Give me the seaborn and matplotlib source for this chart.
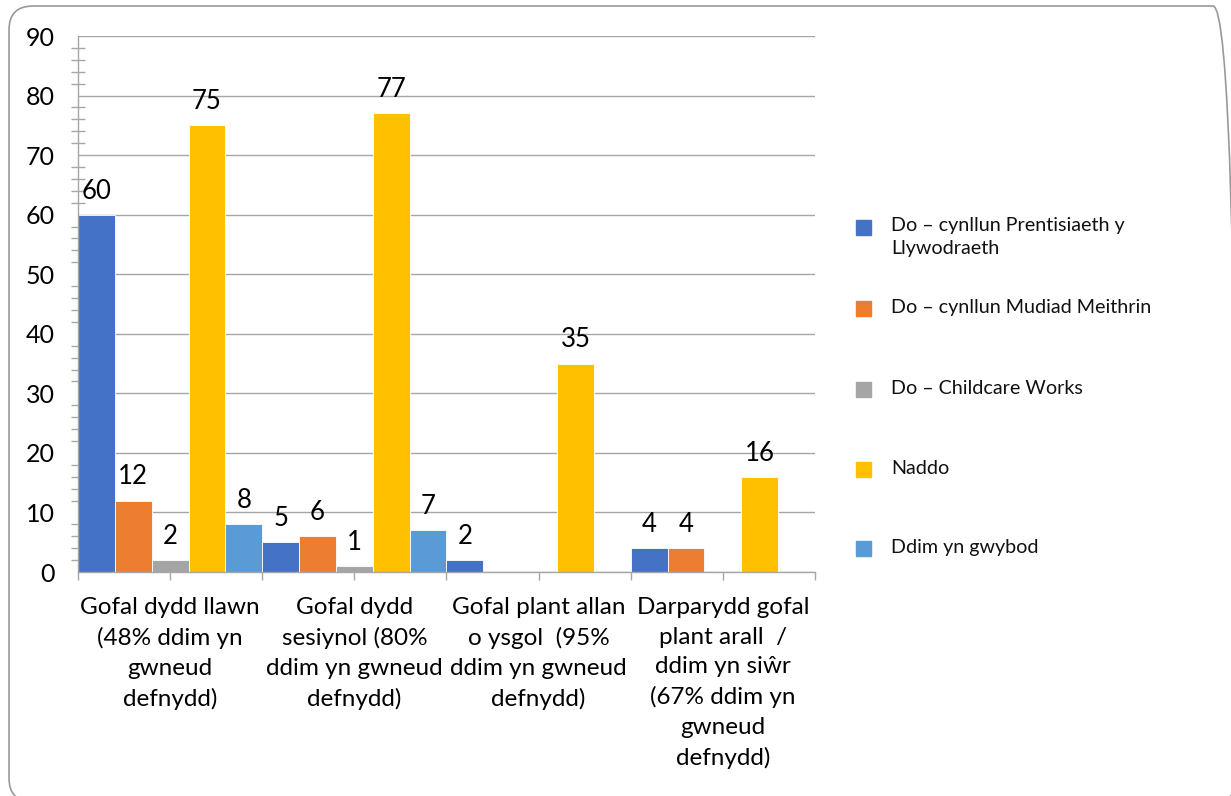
import numpy as np
import pandas as pd
import matplotlib
matplotlib.use("Agg")
import matplotlib.pyplot as plt
import seaborn as sns
from matplotlib.patches import FancyBboxPatch, Rectangle
from matplotlib.ticker import MultipleLocator, FixedLocator

# ---- data ----
categories = [
    "Gofal dydd llawn\n(48% ddim yn\ngwneud\ndefnydd)",
    "Gofal dydd\nsesiynol (80%\nddim yn gwneud\ndefnydd)",
    "Gofal plant allan\no ysgol  (95%\nddim yn gwneud\ndefnydd)",
    "Darparydd gofal\nplant arall  /\nddim yn siŵr\n(67% ddim yn\ngwneud\ndefnydd)",
]
series = [
    "Do – cynllun Prentisiaeth y\nLlywodraeth",
    "Do – cynllun Mudiad Meithrin",
    "Do – Childcare Works",
    "Naddo",
    "Ddim yn gwybod",
]
prentisiaeth = [60, 5, 2, 4]
mudiad_meithrin = [12, 6, 0, 4]
childcare_works = [2, 1, 0, 0]
naddo = [75, 77, 35, 16]
ddim_yn_gwybod = [8, 7, 0, 0]
colors = ["#4472C4", "#ED7D31", "#A5A5A5", "#FFC000", "#5B9BD5"]

values = [prentisiaeth, mudiad_meithrin, childcare_works, naddo, ddim_yn_gwybod]
rows = []
for s, vals in zip(series, values):
    for c, v in zip(categories, vals):
        rows.append({"category": c, "series": s, "value": v})
df = pd.DataFrame(rows)

sns.set_theme(style="white")
plt.rcParams["font.family"] = ["Lato", "DejaVu Sans"]

W, H = 1231, 796
fig = plt.figure(figsize=(W / 100, H / 100), dpi=100)
ax = fig.add_axes([78 / W, 1 - 572 / H, (815 - 78) / W, (572 - 36) / H])

sns.barplot(data=df, x="category", y="value", hue="series",
            order=categories, hue_order=series, palette=colors,
            saturation=1, width=1.0, errorbar=None, legend=False,
            edgecolor="white", linewidth=0.6, ax=ax)

ax.set_xlim(-0.5, len(categories) - 0.5)
ax.set_ylim(0, 90)
ax.set_xlabel("")
ax.set_ylabel("")

gray = "#A6A6A6"
ax.yaxis.set_major_locator(MultipleLocator(10))
ax.yaxis.set_minor_locator(MultipleLocator(2))
ax.yaxis.grid(True, which="major", color=gray, linewidth=1)
ax.set_axisbelow(True)
ax.tick_params(axis="y", which="major", direction="inout", length=11.5,
               width=1, color=gray, pad=11, labelsize=18, labelcolor="black")
ax.tick_params(axis="y", which="minor", direction="inout", length=9.4,
               width=1, color=gray, left=True)

ax.set_xticks(range(len(categories)))
ax.set_xticklabels(categories, linespacing=1.5)
ax.xaxis.set_minor_locator(FixedLocator(np.arange(-0.5, len(categories), 1.0)))
ax.tick_params(axis="x", which="both", direction="out", length=6, width=1,
               color=gray, bottom=True)
ax.tick_params(axis="x", which="major", pad=12, labelsize=17.5, labelcolor="black")

for sp in ["top", "right"]:
    ax.spines[sp].set_visible(False)
for sp in ["left", "bottom"]:
    ax.spines[sp].set_color(gray)
    ax.spines[sp].set_linewidth(1)

for cont, vals in zip(ax.containers, values):
    ax.bar_label(cont, labels=[str(v) if v > 0 else "" for v in vals],
                 padding=8, fontsize=18.5, color="black")

# legend (manual placement)
leg_y = [227, 308, 389, 469, 548]
for s, c, y in zip(series, colors, leg_y):
    fig.add_artist(Rectangle((856 / W, 1 - (y + 7.5) / H), 15 / W, 15 / H,
                             transform=fig.transFigure, color=c))
    ty = y + (10 if "\n" in s else 0)
    fig.text(891 / W, 1 - ty / H, s, ha="left", va="center", fontsize=14.2,
             color="#111111", linespacing=1.45)

# rounded outer border (pixel geometry expressed in figure fraction)
x0, x1, ytop, ybot = 9, 1237, 6, 802
border = FancyBboxPatch((x0 / W, 1 - ybot / H), (x1 - x0) / W, (ybot - ytop) / H,
                        boxstyle="round,pad=0,rounding_size=%f" % (24 / W),
                        mutation_aspect=W / H,
                        transform=fig.transFigure, facecolor="none",
                        edgecolor="#999999", linewidth=1.2)
fig.add_artist(border)

fig.savefig("out.png", dpi=100)
